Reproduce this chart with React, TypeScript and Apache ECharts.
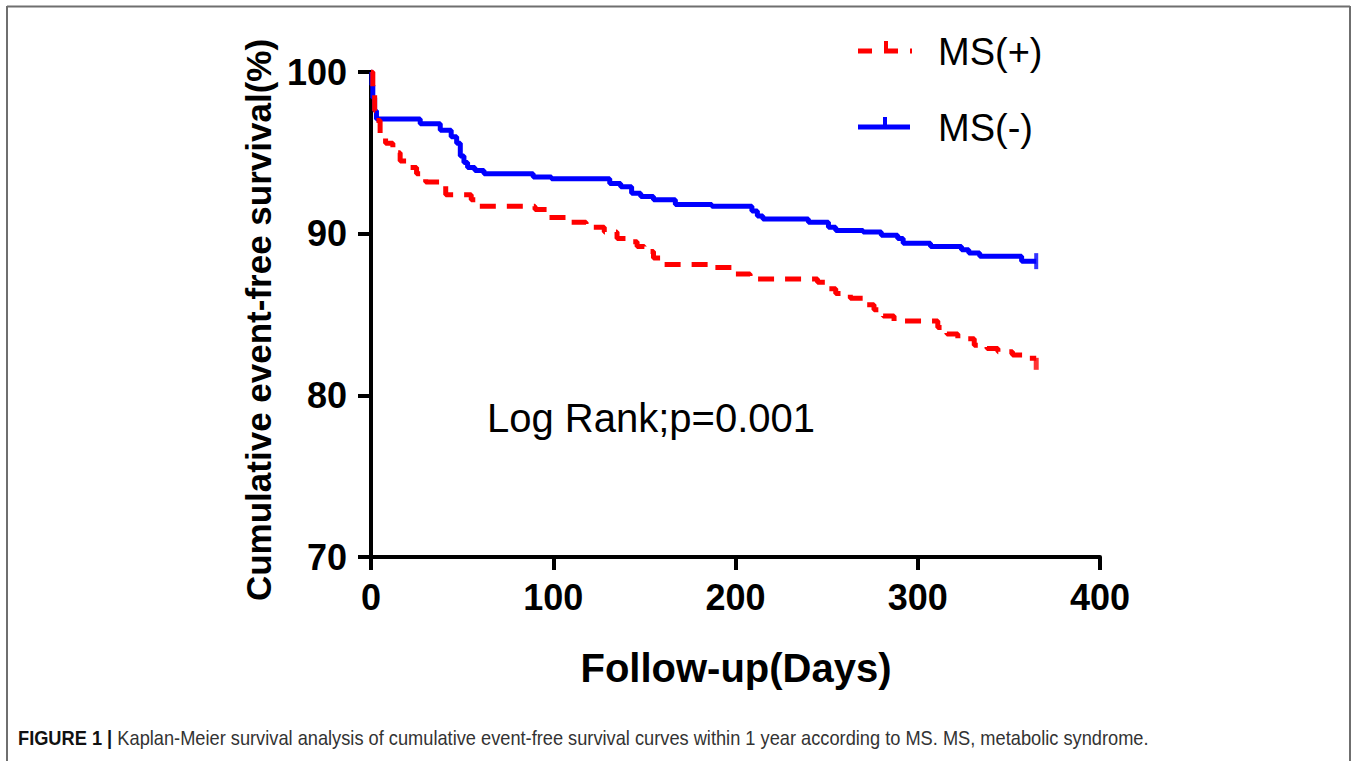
import React, { useEffect, useRef } from "react";
import * as echarts from "echarts";

const xTicks = [0, 100, 200, 300, 400];
const yTicks = [70, 80, 90, 100];

const msPlusDays = [0, 1, 2, 3, 5, 8, 12, 16, 20, 25, 30, 41, 55, 58, 90, 97, 110, 118, 128, 135, 140, 146, 150, 155, 160, 188, 198, 208, 245, 250, 255, 263, 270, 276, 281, 287, 311, 316, 322, 331, 338, 344, 352, 358, 365];
const msPlusSurv = [100, 98.6, 97.6, 97.0, 96.2, 95.6, 95.0, 94.5, 94.1, 93.7, 93.2, 92.4, 92.1, 91.7, 91.5, 91.0, 90.7, 90.4, 90.1, 89.7, 89.5, 89.2, 88.9, 88.5, 88.1, 87.9, 87.5, 87.2, 87.0, 86.6, 86.3, 86.0, 85.6, 85.3, 84.9, 84.6, 84.2, 83.8, 83.5, 83.1, 82.9, 82.7, 82.5, 82.3, 82.3];

const msMinusDays = [0, 0.5, 1, 2, 3, 27, 38, 44, 47, 49, 51, 53, 57, 62, 89, 99, 131, 137, 143, 148, 155, 167, 187, 209, 212, 215, 240, 251, 255, 270, 280, 289, 292, 307, 324, 328, 334, 357, 365];
const msMinusSurv = [100, 99.2, 98.4, 97.6, 97.1, 96.8, 96.4, 96.0, 95.6, 94.8, 94.4, 94.1, 93.9, 93.7, 93.5, 93.4, 93.1, 92.9, 92.5, 92.3, 92.1, 91.8, 91.7, 91.4, 91.1, 90.9, 90.7, 90.4, 90.2, 90.1, 89.9, 89.7, 89.4, 89.2, 89.0, 88.8, 88.6, 88.3, 88.3];

const censorPlus = [[365, 81.95]];
const censorMinus = [[365, 88.3]];

const seriesNames = ["MS(+)", "MS(-)"];
const annotation = "Log Rank;p=0.001";
const xTitle = "Follow-up(Days)";
const yTitle = "Cumulative event-free survival(%)";
const captionBold = "FIGURE 1 | ";
const captionText =
  "Kaplan-Meier survival analysis of cumulative event-free survival curves within 1 year according to MS. MS, metabolic syndrome.";

const FONT = "'Liberation Sans', Arial, Helvetica, sans-serif";
const RED = "#ff0000";
const BLUE = "#0000ff";

export default function App() {
  const ref = useRef<HTMLDivElement>(null);

  useEffect(() => {
    if (!ref.current) return;
    const chart = echarts.init(ref.current, null, { renderer: "svg" });
    const plus = msPlusDays.map((d, i) => [d, msPlusSurv[i]]);
    const minus = msMinusDays.map((d, i) => [d, msMinusSurv[i]]);

    chart.setOption({
      animation: false,
      backgroundColor: "#ffffff",
      grid: { left: 371, right: 257, top: 72, bottom: 204, containLabel: false },
      xAxis: {
        type: "value",
        min: xTicks[0],
        max: xTicks[xTicks.length - 1],
        interval: 100,
        splitLine: { show: false },
        axisLine: { show: true, onZero: false, lineStyle: { color: "#000", width: 4 } },
        axisTick: { show: true, length: 13, lineStyle: { color: "#000", width: 4 } },
        axisLabel: {
          color: "#000",
          fontSize: 36,
          fontWeight: "bold",
          fontFamily: FONT,
          margin: 22,
        },
      },
      yAxis: {
        type: "value",
        min: yTicks[0],
        max: yTicks[yTicks.length - 1],
        interval: 10,
        splitLine: { show: false },
        axisLine: { show: true, onZero: false, lineStyle: { color: "#000", width: 4 } },
        axisTick: { show: true, length: 13, lineStyle: { color: "#000", width: 4 } },
        axisLabel: {
          color: "#000",
          fontSize: 36,
          fontWeight: "bold",
          fontFamily: FONT,
          margin: 24,
        },
      },
      series: [
        {
          name: seriesNames[0],
          type: "line",
          step: "end",
          data: plus,
          showSymbol: false,
          symbol: "none",
          lineStyle: { color: RED, width: 5, type: [16, 11] },
          z: 3,
        },
        {
          name: seriesNames[1],
          type: "line",
          step: "end",
          data: minus,
          showSymbol: false,
          symbol: "none",
          lineStyle: { color: BLUE, width: 5, type: "solid" },
          z: 2,
        },
        {
          name: seriesNames[0] + " censored",
          type: "scatter",
          data: censorPlus,
          symbol: "rect",
          symbolSize: [5, 12],
          itemStyle: { color: RED },
          z: 4,
        },
        {
          name: seriesNames[1] + " censored",
          type: "scatter",
          data: censorMinus,
          symbol: "rect",
          symbolSize: [4, 16],
          itemStyle: { color: BLUE },
          z: 4,
        },
      ],
      graphic: [
        // frame
        { type: "line", shape: { x1: 7, y1: 6.5, x2: 1350, y2: 6.5 }, style: { stroke: "#6f6f6f", lineWidth: 2 } },
        { type: "line", shape: { x1: 7, y1: 6, x2: 7, y2: 761 }, style: { stroke: "#6f6f6f", lineWidth: 2 } },
        { type: "line", shape: { x1: 1350, y1: 6, x2: 1350, y2: 761 }, style: { stroke: "#6f6f6f", lineWidth: 2 } },
        // legend
        { type: "line", shape: { x1: 858, y1: 51, x2: 912, y2: 51 }, style: { stroke: RED, lineWidth: 5, lineDash: [14, 12] } },
        { type: "line", shape: { x1: 886, y1: 41, x2: 886, y2: 51 }, style: { stroke: RED, lineWidth: 4 } },
        { type: "line", shape: { x1: 858, y1: 127, x2: 910, y2: 127 }, style: { stroke: BLUE, lineWidth: 5 } },
        { type: "line", shape: { x1: 885, y1: 117, x2: 885, y2: 127 }, style: { stroke: BLUE, lineWidth: 4 } },
        {
          type: "text",
          x: 938,
          y: 52,
          style: { text: seriesNames[0], font: `38px ${FONT}`, fill: "#000", textAlign: "left", textVerticalAlign: "middle" },
        },
        {
          type: "text",
          x: 938,
          y: 128,
          style: { text: seriesNames[1], font: `38px ${FONT}`, fill: "#000", textAlign: "left", textVerticalAlign: "middle" },
        },
        // annotation
        {
          type: "text",
          x: 487,
          y: 418,
          style: { text: annotation, font: `40px ${FONT}`, fill: "#000", textAlign: "left", textVerticalAlign: "middle" },
        },
        // axis titles
        {
          type: "text",
          x: 736,
          y: 668,
          style: { text: xTitle, font: `bold 40px ${FONT}`, fill: "#000", textAlign: "center", textVerticalAlign: "middle" },
        },
        {
          type: "text",
          x: 258,
          y: 320,
          rotation: Math.PI / 2,
          style: { text: yTitle, font: `bold 35px ${FONT}`, fill: "#000", textAlign: "center", textVerticalAlign: "middle" },
        },
        // caption
        {
          type: "text",
          x: 18,
          y: 738,
          scaleX: 0.912,
          style: {
            text: `{b|${captionBold}}{r|${captionText}}`,
            textVerticalAlign: "middle",
            textAlign: "left",
            rich: {
              b: { fontFamily: FONT, fontSize: 20, fontWeight: "bold", fill: "#111", color: "#111" },
              r: { fontFamily: FONT, fontSize: 20, fill: "#333", color: "#333" },
            },
          },
        },
      ],
    });

    return () => chart.dispose();
  }, []);

  return (
    <div
      ref={ref}
      style={{ position: "fixed", left: 0, top: 0, width: 1357, height: 761, background: "#fff" }}
    />
  );
}
